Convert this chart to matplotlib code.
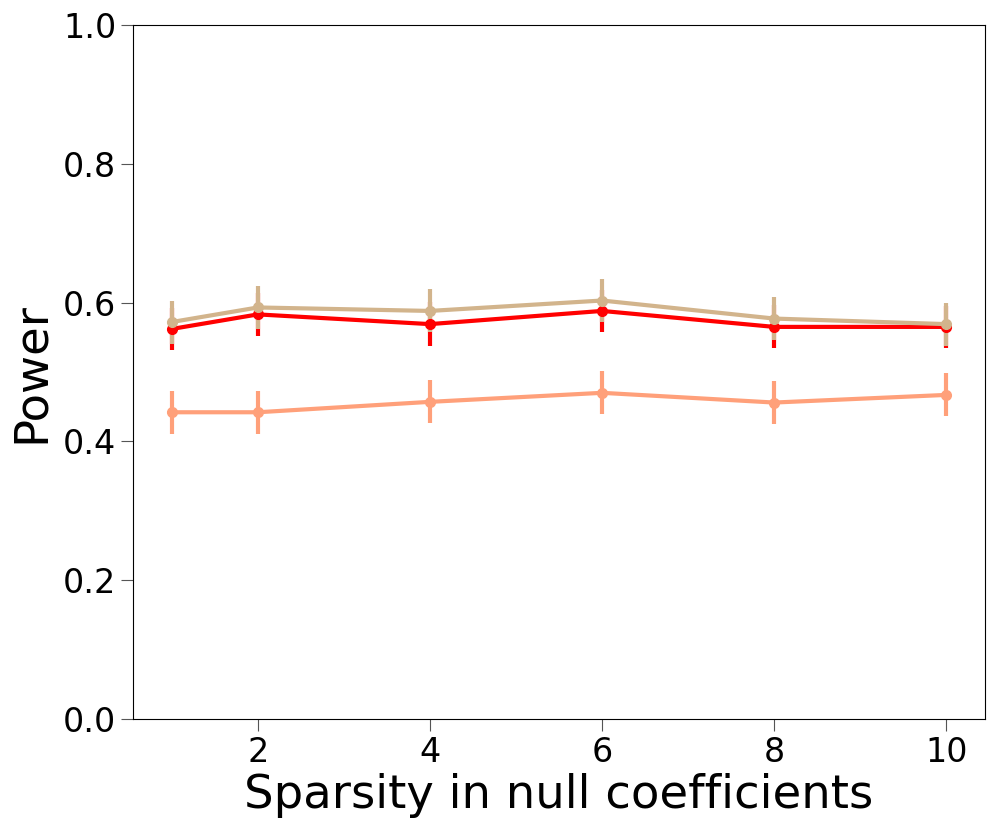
import matplotlib
matplotlib.use("Agg")
from matplotlib import pyplot as plt

# sparsity levels on the x axis
sparsity = [1, 2, 4, 6, 8, 10]

# power per method
power_tan = [0.572, 0.593, 0.588, 0.603, 0.577, 0.569]
power_red = [0.562, 0.583, 0.569, 0.588, 0.565, 0.565]
power_salmon = [0.442, 0.442, 0.457, 0.470, 0.456, 0.467]

# error bar half-widths
err_tan = [0.031, 0.031, 0.031, 0.031, 0.031, 0.031]
err_red = [0.030, 0.031, 0.032, 0.030, 0.031, 0.030]
err_salmon = [0.031, 0.031, 0.031, 0.031, 0.031, 0.031]

series = [
    (power_salmon, err_salmon, '#FFA07A'),
    (power_red, err_red, '#FF0000'),
    (power_tan, err_tan, '#D2B48C'),
]

fig = plt.figure(figsize=(9.97, 8.3), dpi=100)
ax = fig.add_axes([0.1334, 0.1337, 0.8546, 0.8362])

for valores, errores, color in series:
    ax.errorbar(sparsity, valores, yerr=errores, color=color, marker='o',
                markersize=7, linewidth=3, elinewidth=3, capsize=0)

ax.set_ylim(0, 1.0)
ax.set_xticks([2, 4, 6, 8, 10])
ax.set_yticks([0.0, 0.2, 0.4, 0.6, 0.8, 1.0])
ax.tick_params(axis='both', labelsize=24, length=8.5, width=0.8, color='#555555')
ax.set_xlabel('Sparsity in null coefficients', fontsize=33.5, labelpad=3)
ax.set_ylabel('Power', fontsize=33.5, labelpad=6.5)

fig.savefig('out.png', dpi=100)
